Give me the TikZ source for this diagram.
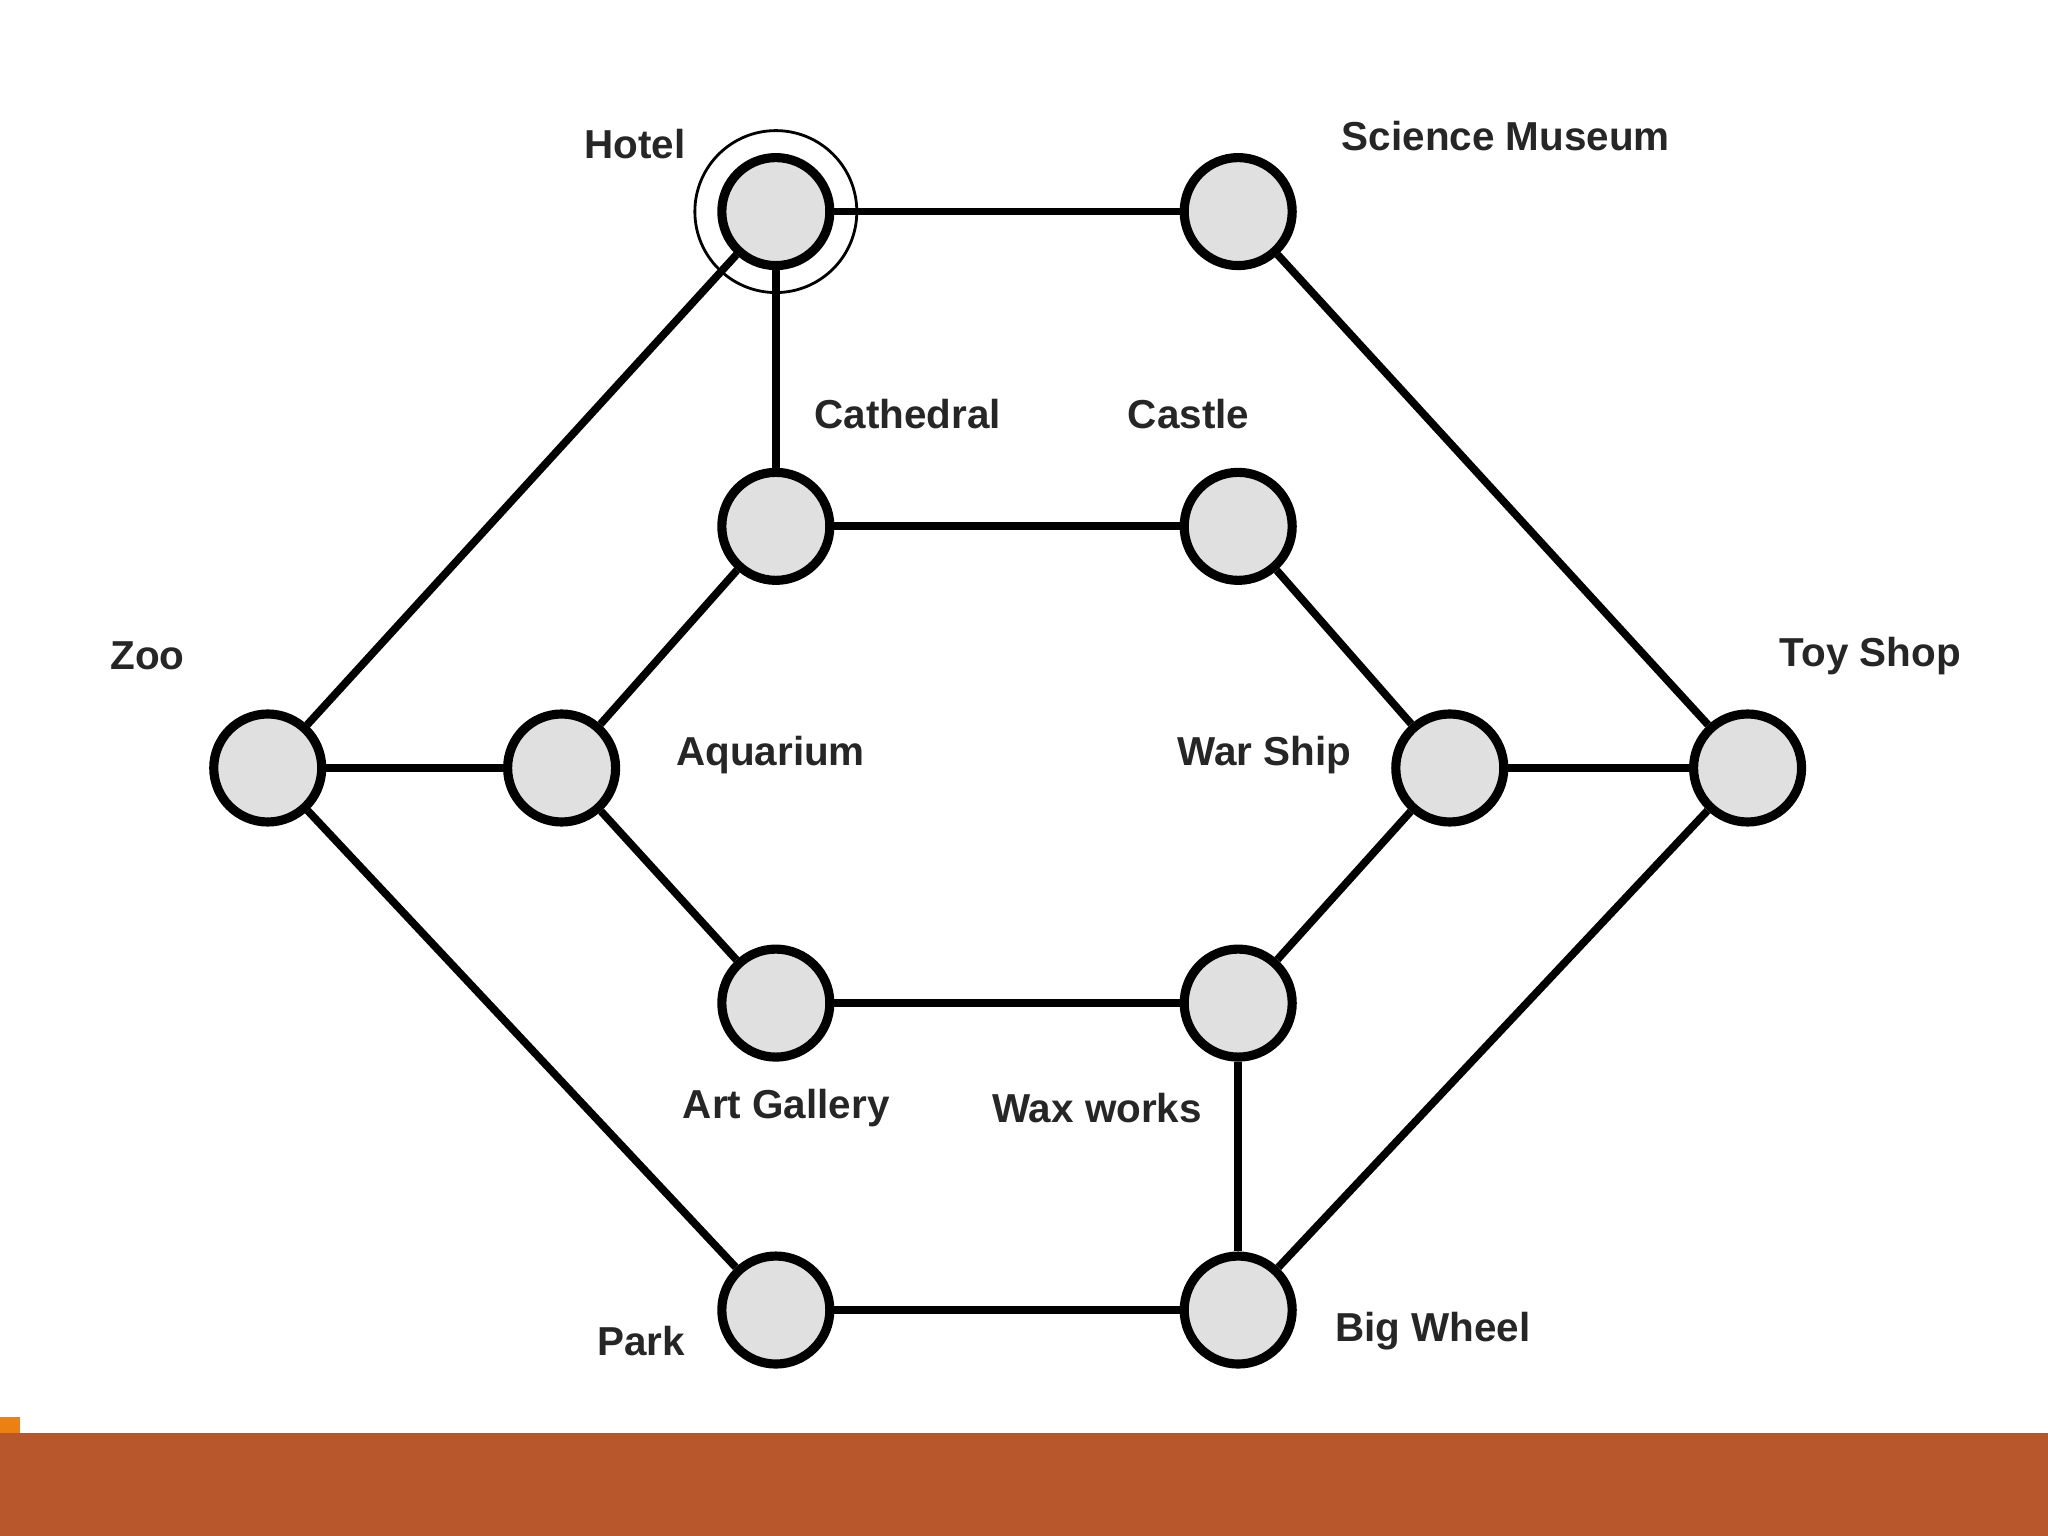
\documentclass[tikz,border=0pt]{standalone}
\usepackage{fontspec}
\setmainfont{Liberation Sans}
\begin{document}
\begin{tikzpicture}[x=0.01306cm,y=-0.01306cm,
  place/.style={circle,draw=black,line width=2.6pt,fill=black!12,minimum size=1.08cm,inner sep=0pt},
  edge/.style={line width=2.2pt},
  lab/.style={font=\fontsize{11.5}{14}\selectfont\bfseries,text=black!85}]
\useasboundingbox (0,0) rectangle (1568,1176);
\fill[fill=white] (0,0) rectangle (1568,1176);
\fill[fill=orange!70!brown] (0,1085) rectangle (15,1097);
\fill[fill={rgb,255:red,184;green,86;blue,44}] (0,1097) rectangle (1568,1176);
\node[place] (hotel) at (594,162) {};
\draw[line width=0.8pt] (hotel.center) circle[radius=62];
\node[place] (sci) at (948,162) {};
\node[place] (cat) at (594,403) {};
\node[place] (cas) at (948,403) {};
\node[place] (zoo) at (205,588) {};
\node[place] (aq) at (430,588) {};
\node[place] (war) at (1110,588) {};
\node[place] (toy) at (1338,588) {};
\node[place] (art) at (594,768) {};
\node[place] (wax) at (948,768) {};
\node[place] (park) at (594,1003) {};
\node[place] (big) at (948,1003) {};
\draw[edge] (hotel) -- (sci);
\draw[edge] (hotel) -- (cat);
\draw[edge] (hotel) -- (zoo);
\draw[edge] (sci) -- (toy);
\draw[edge] (cat) -- (cas);
\draw[edge] (cat) -- (aq);
\draw[edge] (cas) -- (war);
\draw[edge] (zoo) -- (aq);
\draw[edge] (zoo) -- (park);
\draw[edge] (war) -- (toy);
\draw[edge] (aq) -- (art);
\draw[edge] (war) -- (wax);
\draw[edge] (art) -- (wax);
\draw[edge] (wax) -- (big);
\draw[edge] (park) -- (big);
\draw[edge] (toy) -- (big);
\node[lab] (lh) at (486,110) {Hotel};
\node[lab] (ls) at (1153,104) {Science Museum};
\node[lab] (lc) at (695,317) {Cathedral};
\node[lab] (lca) at (910,317) {Castle};
\node[lab] (lz) at (113,502) {Zoo};
\node[lab] (la) at (590,578) {Aquarium};
\node[lab] (lw) at (968,578) {War Ship};
\node[lab] (lt) at (1432,502) {Toy Shop};
\node[lab] (lag) at (602,848) {Art Gallery};
\node[lab] (lwx) at (840,848) {Wax works};
\node[lab] (lp) at (491,1027) {Park};
\node[lab] (lb) at (1097,1019) {Big Wheel};
\end{tikzpicture}
\end{document}
